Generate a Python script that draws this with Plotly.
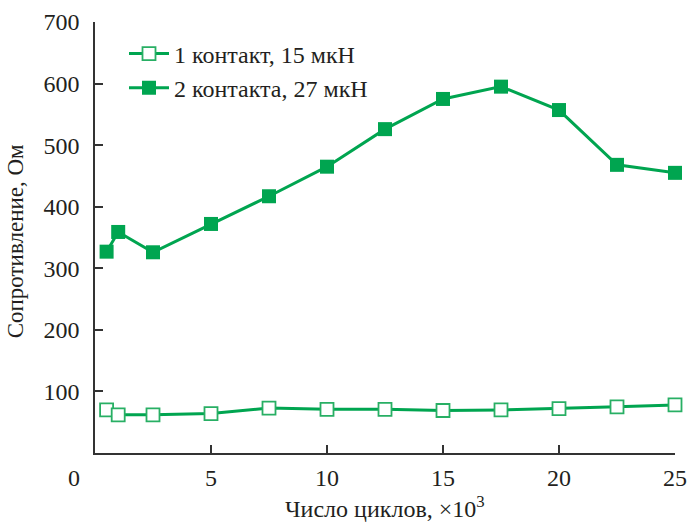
import plotly.graph_objects as go

# Cycle counts (thousands)
cycles = [0.5, 1, 2.5, 5, 7.5, 10, 12.5, 15, 17.5, 20, 22.5, 25]

# Resistance, Ohm
one_contact = [70, 62, 62, 64, 73, 71, 71, 69, 70, 72, 75, 78]
two_contacts = [327, 359, 326, 372, 417, 465, 526, 575, 595, 557, 468, 455]

series_names = ["1 контакт, 15 мкН", "2 контакта, 27 мкН"]
x_ticks = [5, 10, 15, 20, 25]
y_ticks = [100, 200, 300, 400, 500, 600, 700]

GREEN = "rgb(0,165,80)"
INK = "#231f20"
FONT = "Liberation Serif"

fig = go.Figure()
fig.add_trace(go.Scatter(
    x=cycles, y=one_contact, name=series_names[0], mode="lines+markers",
    line=dict(color=GREEN, width=3),
    marker=dict(symbol="square", size=13, color="white",
                line=dict(color="rgb(40,175,100)", width=1.8)),
    cliponaxis=False,
))
fig.add_trace(go.Scatter(
    x=cycles, y=two_contacts, name=series_names[1], mode="lines+markers",
    line=dict(color=GREEN, width=3),
    marker=dict(symbol="square", size=14, color=GREEN, line=dict(width=0)),
    cliponaxis=False,
))

axis_common = dict(
    showline=True, linecolor="#333", linewidth=1.5, mirror=False,
    ticks="inside", ticklen=8, tickwidth=1.5, tickcolor="#333",
    showgrid=False, zeroline=False, automargin=False,
    tickfont=dict(family=FONT, size=24, color=INK),
)

fig.update_layout(
    width=687, height=524,
    margin=dict(l=95, r=12, t=22, b=71),
    paper_bgcolor="white", plot_bgcolor="white",
    font=dict(family=FONT, size=24, color=INK),
    xaxis=dict(range=[0, 25], tickvals=x_ticks, ticklabelstandoff=2, **axis_common),
    yaxis=dict(range=[0, 700], tickvals=y_ticks, ticklabelstandoff=9, **axis_common),
    legend=dict(x=0.05, y=0.978, xanchor="left", yanchor="top",
                bgcolor="rgba(0,0,0,0)", font=dict(family=FONT, size=24, color=INK),
                itemwidth=40),
    showlegend=True,
)

# Shared origin label and axis titles
fig.add_annotation(text="0", xref="paper", yref="paper", x=-0.05, y=0, yshift=-25,
                   yanchor="middle", showarrow=False,
                   font=dict(family=FONT, size=24, color=INK))
fig.add_annotation(text="Число циклов, ×10<sup>3</sup>", xref="paper", yref="paper",
                   x=0.5, y=0, yshift=-54, yanchor="middle", showarrow=False,
                   font=dict(family=FONT, size=24, color=INK))
fig.add_annotation(text="Сопротивление, Ом", xref="paper", yref="paper",
                   x=0, xshift=-94, y=0.49, textangle=-90, showarrow=False,
                   font=dict(family=FONT, size=23, color=INK))

fig.write_html("out.html")
